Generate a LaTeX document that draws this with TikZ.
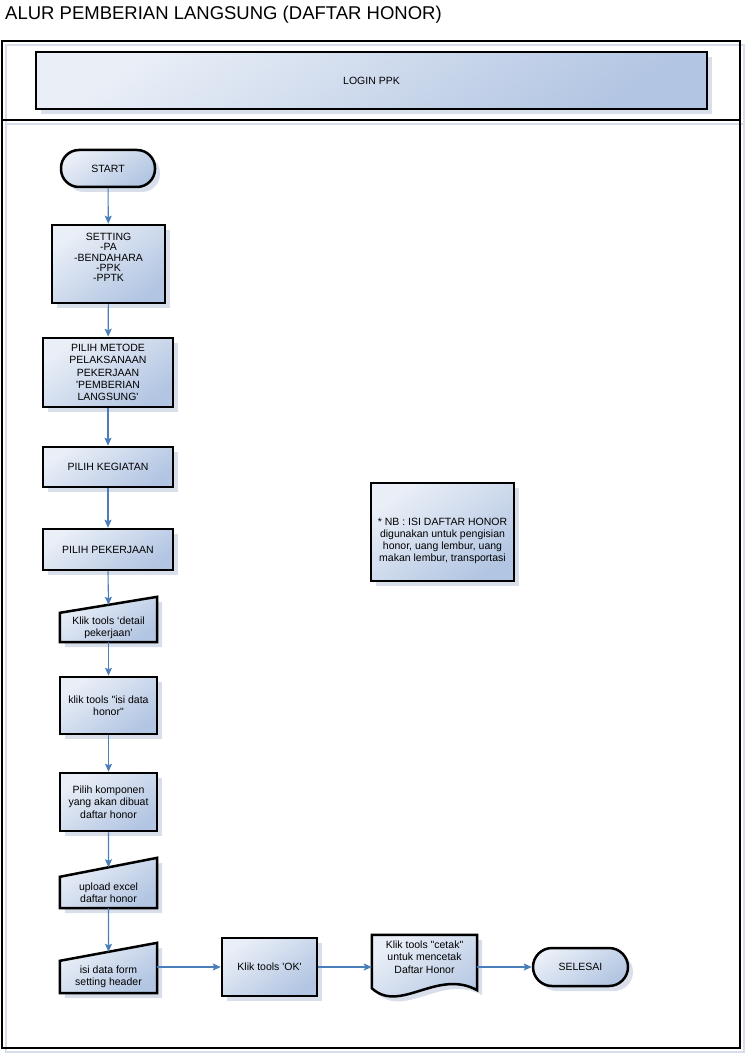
\documentclass[tikz,border=0pt]{standalone}
\usepackage{fontspec}
\setmainfont{Liberation Sans}
\newfontfamily\diagfont{Liberation Sans}
\usetikzlibrary{arrows.meta, positioning, calc, shadows, backgrounds}
\definecolor{myblue}{RGB}{74,126,187}
\definecolor{myshade}{RGB}{216,222,234}
\definecolor{boxlt}{RGB}{234,239,247}
\definecolor{boxdk}{RGB}{178,197,226}
\tikzset{
  fillshade/.style={top color=boxlt, bottom color=boxdk, shading angle=35,
    drop shadow={shadow xshift=5pt, shadow yshift=-5pt, fill=myshade, opacity=1}},
  outline/.style={draw=black, line width=2.5pt, fillshade},
  block/.style={rectangle, outline, align=center, inner sep=2pt,
    font=\diagfont\fontsize{10.5}{12.4}\selectfont},
  termbox/.style={block, rounded corners=18pt},
  txtarea/.style={rectangle, align=center, inner sep=0pt,
    font=\diagfont\fontsize{10.5}{12.4}\selectfont},
  arrow/.style={-{Stealth[length=8pt, width=7pt, inset=1.5pt]}, line width=1.1pt, color=myblue},
  frameline/.style={draw=black, line width=2pt},
  frameshade/.style={draw=myshade, line width=2pt}
}

\begin{document}
\begin{tikzpicture}[x=1pt, y=-1pt]
  \useasboundingbox (0,0) rectangle (749,1064);
  % Title
  \node[anchor=west, inner sep=0pt, font=\diagfont\fontsize{18.5}{20}\selectfont] (title) at (5,15) {ALUR PEMBERIAN LANGSUNG (DAFTAR HONOR)};

  % Frame
  \draw[frameshade] (6,45) rectangle (744,1052);
  \draw[frameshade] (6,124) -- (744,124);
  \draw[frameline] (2,41) rectangle (740,1048);
  \draw[frameline] (2,120) -- (740,120);

  % Header
  \node[block, minimum width=671pt, minimum height=57pt] (login) at (371.5,80.5) {LOGIN PPK};

  % Main column
  \node[termbox, minimum width=94pt, minimum height=37pt] (start) at (108,168.5) {START};
  \node[block, minimum width=113pt, minimum height=78pt] (setting) at (108.5,264) {};
  \node[txtarea, font=\diagfont\fontsize{10.5}{10.3}\selectfont] (settingtxt) at (108.5,257.5) {SETTING\\-PA\\-BENDAHARA\\-PPK\\-PPTK};
  \node[block, minimum width=130pt, minimum height=69pt] (metode) at (108,372.5) {PILIH METODE\\PELAKSANAAN\\PEKERJAAN\\'PEMBERIAN\\LANGSUNG'};
  \node[block, minimum width=130pt, minimum height=40pt] (kegiatan) at (108,467) {PILIH KEGIATAN};
  \node[block, minimum width=130pt, minimum height=41pt] (pekerjaan) at (108,549.5) {PILIH PEKERJAAN};
  \node[txtarea, minimum width=97pt, minimum height=29pt] (detail) at (108.5,627.5) {Klik tools ‘detail\\pekerjaan’};
  \node[block, minimum width=97pt, minimum height=57pt] (isihonor) at (108.5,705.5) {klik tools "isi data\\honor"};
  \node[block, minimum width=97pt, minimum height=58pt] (komponen) at (108.5,802) {Pilih komponen\\yang akan dibuat\\daftar honor};
  \node[txtarea, minimum width=97pt, minimum height=31pt] (upload) at (108.5,892.5) {upload excel\\daftar honor};
  \node[txtarea, minimum width=97pt, minimum height=32pt] (header) at (108.5,977) {isi data form\\setting header};

  % Bottom row
  \node[block, minimum width=95pt, minimum height=58pt] (ok) at (269.5,967) {Klik tools 'OK'};
  \node[txtarea, minimum width=105pt, minimum height=44pt] (cetak) at (424.5,957) {Klik tools "cetak"\\untuk mencetak\\Daftar Honor};
  \node[termbox, minimum width=95pt, minimum height=38pt, rounded corners=19pt] (selesai) at (580.5,967) {SELESAI};

  % Note
  \node[block, minimum width=143pt, minimum height=98pt] (nb) at (442.5,532) {};
  \node[txtarea, font=\diagfont\fontsize{10.5}{12}\selectfont] (nbtxt) at (442.5,541) {* NB : ISI DAFTAR HONOR\\digunakan untuk pengisian\\honor, uang lembur, uang\\makan lembur, transportasi};

  % Manual input and document outlines
  \begin{pgfonlayer}{background}
    \draw[outline] (detail.south west) -- (detail.south east) -- ([yshift=16pt]detail.north east) -- (detail.north west) -- cycle;
    \draw[outline] (upload.south west) -- (upload.south east) -- ([yshift=19pt]upload.north east) -- (upload.north west) -- cycle;
    \draw[outline] (header.south west) -- (header.south east) -- ([yshift=18pt]header.north east) -- (header.north west) -- cycle;
    \draw[outline] (cetak.north west) -- ([yshift=-9pt]cetak.south west) .. controls +(28,26) and +(-40,-22) .. ([yshift=-11pt]cetak.south east) -- (cetak.north east) -- cycle;
  \end{pgfonlayer}
  \coordinate (detailtop) at ($(detail.north west)!0.5!([yshift=16pt]detail.north east)$);
  \coordinate (uploadtop) at ($(upload.north west)!0.5!([yshift=19pt]upload.north east)$);
  \coordinate (headertop) at ($(header.north west)!0.5!([yshift=18pt]header.north east)$);

  % Connectors
  \draw[arrow] (start) -- (setting);
  \draw[arrow] (setting) -- (metode);
  \draw[arrow] (metode) -- (kegiatan);
  \draw[arrow] (kegiatan) -- (pekerjaan);
  \draw[arrow] (pekerjaan.south) -- (detailtop);
  \draw[arrow] (detail.south) -- (isihonor.north);
  \draw[arrow] (isihonor) -- (komponen);
  \draw[arrow] (komponen.south) -- (uploadtop);
  \draw[arrow] (upload.south) -- (headertop);
  \draw[arrow] (header.east |- ok.west) -- (ok.west);
  \draw[arrow] (ok.east) -- (ok.east -| cetak.west);
  \draw[arrow] (cetak.east |- selesai.west) -- (selesai.west);
\end{tikzpicture}
\end{document}
